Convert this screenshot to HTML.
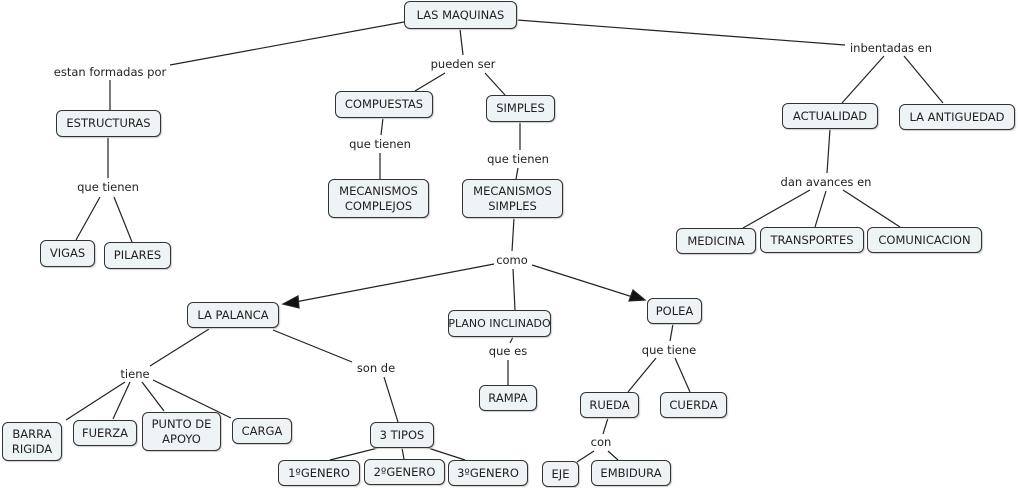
<!DOCTYPE html>
<html><head><meta charset="utf-8"><style>
body{margin:0;width:1018px;height:488px;background:#fff;position:relative;overflow:hidden;font-family:"DejaVu Sans","Liberation Sans",sans-serif;font-size:11.5px;color:#222}
.n{position:absolute;box-sizing:border-box;border:1px solid #333;border-radius:6px;background:#eef3f6;display:flex;align-items:center;justify-content:center;text-align:center;line-height:15px;box-shadow:1px 1px 1px #ccc;white-space:nowrap;padding:0}
.l{position:absolute;transform:translate(-50%,-50%);background:#fff;white-space:nowrap;padding:0 2px}
svg{position:absolute;left:0;top:0}
</style></head><body>
<svg width="1018" height="488" stroke="#222" stroke-width="1.2" fill="none">
<line x1="404" y1="22" x2="170" y2="65"/>
<line x1="110" y1="80" x2="110" y2="110"/>
<line x1="108" y1="137" x2="108" y2="178"/>
<line x1="100" y1="197" x2="76" y2="240"/>
<line x1="114" y1="197" x2="132" y2="242"/>
<line x1="460" y1="29" x2="463" y2="55"/>
<line x1="445" y1="73" x2="415" y2="91"/>
<line x1="485" y1="73" x2="505" y2="95"/>
<line x1="383" y1="118" x2="381" y2="135"/>
<line x1="380" y1="153" x2="380" y2="179"/>
<line x1="520" y1="122" x2="520" y2="150"/>
<line x1="518" y1="168" x2="516" y2="179"/>
<line x1="514" y1="218" x2="512" y2="251"/>
<line x1="494" y1="264" x2="290" y2="303"/>
<line x1="513" y1="269" x2="515" y2="310"/>
<line x1="532" y1="265" x2="636" y2="298"/>
<line x1="517" y1="20" x2="845" y2="45"/>
<line x1="884" y1="56" x2="842" y2="103"/>
<line x1="904" y1="56" x2="943" y2="103"/>
<line x1="830" y1="129" x2="827" y2="173"/>
<line x1="810" y1="190" x2="743" y2="228"/>
<line x1="826" y1="191" x2="815" y2="227"/>
<line x1="843" y1="190" x2="900" y2="227"/>
<line x1="209" y1="329" x2="150" y2="366"/>
<line x1="273" y1="330" x2="352" y2="362"/>
<line x1="125" y1="382" x2="66" y2="420"/>
<line x1="130" y1="382" x2="113" y2="419"/>
<line x1="142" y1="382" x2="164" y2="411"/>
<line x1="153" y1="380" x2="231" y2="418"/>
<line x1="384" y1="377" x2="398" y2="422"/>
<line x1="382" y1="447" x2="330" y2="460"/>
<line x1="402" y1="448" x2="404" y2="459"/>
<line x1="425" y1="447" x2="465" y2="460"/>
<line x1="513" y1="337" x2="510" y2="343"/>
<line x1="508" y1="360" x2="508" y2="385"/>
<line x1="673" y1="324" x2="670" y2="341"/>
<line x1="656" y1="358" x2="628" y2="392"/>
<line x1="675" y1="358" x2="690" y2="392"/>
<line x1="608" y1="418" x2="603" y2="434"/>
<line x1="594" y1="451" x2="577" y2="462"/>
<line x1="608" y1="451" x2="618" y2="460"/>
<polygon points="283,304 298,296 299,308" fill="#111"/>
<polygon points="645,300 629,301 633,290" fill="#111"/>
</svg>
<div class="n" style="left:404px;top:1px;width:113px;height:28px">LAS MAQUINAS</div>
<div class="l" style="left:110px;top:72px">estan formadas por</div>
<div class="n" style="left:56px;top:110px;width:105px;height:27px">ESTRUCTURAS</div>
<div class="l" style="left:108px;top:187px">que tienen</div>
<div class="n" style="left:40px;top:240px;width:55px;height:27px">VIGAS</div>
<div class="n" style="left:104px;top:242px;width:67px;height:27px">PILARES</div>
<div class="l" style="left:463px;top:64px">pueden ser</div>
<div class="n" style="left:335px;top:91px;width:98px;height:27px">COMPUESTAS</div>
<div class="n" style="left:486px;top:95px;width:69px;height:27px">SIMPLES</div>
<div class="l" style="left:380px;top:144px">que tienen</div>
<div class="n" style="left:328px;top:179px;width:101px;height:39px">MECANISMOS<br>COMPLEJOS</div>
<div class="l" style="left:518px;top:159px">que tienen</div>
<div class="n" style="left:462px;top:179px;width:101px;height:39px">MECANISMOS<br>SIMPLES</div>
<div class="l" style="left:512px;top:260px">como</div>
<div class="n" style="left:187px;top:302px;width:92px;height:26px">LA PALANCA</div>
<div class="n" style="left:448px;top:310px;width:103px;height:27px;font-size:11px">PLANO INCLINADO</div>
<div class="n" style="left:647px;top:298px;width:55px;height:26px">POLEA</div>
<div class="l" style="left:891px;top:48px">inbentadas en</div>
<div class="n" style="left:782px;top:103px;width:96px;height:26px">ACTUALIDAD</div>
<div class="n" style="left:899px;top:104px;width:116px;height:26px">LA ANTIGUEDAD</div>
<div class="l" style="left:826px;top:182px">dan avances en</div>
<div class="n" style="left:676px;top:228px;width:80px;height:26px">MEDICINA</div>
<div class="n" style="left:760px;top:227px;width:104px;height:26px">TRANSPORTES</div>
<div class="n" style="left:867px;top:227px;width:115px;height:26px">COMUNICACION</div>
<div class="l" style="left:135px;top:374px">tiene</div>
<div class="n" style="left:2px;top:422px;width:60px;height:39px">BARRA<br>RIGIDA</div>
<div class="n" style="left:73px;top:420px;width:64px;height:26px">FUERZA</div>
<div class="n" style="left:142px;top:412px;width:79px;height:39px">PUNTO DE<br>APOYO</div>
<div class="n" style="left:232px;top:418px;width:60px;height:26px">CARGA</div>
<div class="l" style="left:376px;top:368px">son de</div>
<div class="n" style="left:370px;top:422px;width:64px;height:26px">3 TIPOS</div>
<div class="n" style="left:278px;top:460px;width:82px;height:26px">1ºGENERO</div>
<div class="n" style="left:364px;top:459px;width:81px;height:26px">2ºGENERO</div>
<div class="n" style="left:448px;top:460px;width:80px;height:26px">3ºGENERO</div>
<div class="l" style="left:508px;top:351px">que es</div>
<div class="n" style="left:479px;top:385px;width:58px;height:26px">RAMPA</div>
<div class="l" style="left:669px;top:350px">que tiene</div>
<div class="n" style="left:580px;top:392px;width:59px;height:26px">RUEDA</div>
<div class="n" style="left:660px;top:392px;width:67px;height:26px">CUERDA</div>
<div class="l" style="left:601px;top:442px">con</div>
<div class="n" style="left:542px;top:461px;width:37px;height:26px">EJE</div>
<div class="n" style="left:591px;top:460px;width:80px;height:26px">EMBIDURA</div>
</body></html>
